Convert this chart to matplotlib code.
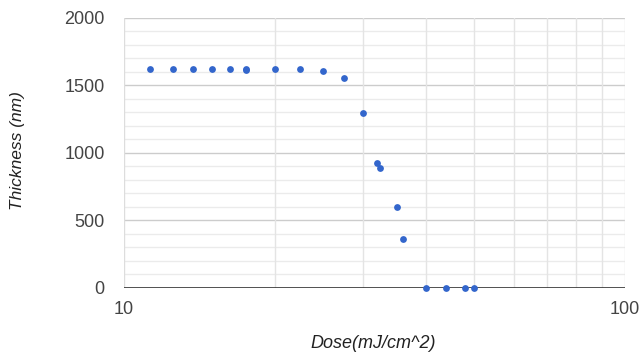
import numpy as np
import matplotlib
matplotlib.use("agg")
import matplotlib.pyplot as plt
from matplotlib.ticker import FixedLocator, NullFormatter

# dose (mJ/cm^2) vs. remaining resist thickness (nm)
dose = [11.25, 12.5, 13.75, 15, 16.25, 17.5, 17.5, 20, 22.5, 25, 27.5,
        30, 32, 32.5, 35, 36, 40, 44, 48, 50]
thickness = [1620, 1620, 1620, 1620, 1620, 1620, 1612, 1620, 1620, 1605, 1550,
             1295, 925, 885, 600, 365, 0, 0, 0, 0]

y_major = [0, 500, 1000, 1500, 2000]
x_ticks = [10, 100]
x_labels = ["10", "100"]

plt.rcParams["font.family"] = ["Liberation Sans", "DejaVu Sans"]

fig = plt.figure(figsize=(6.41, 3.54), dpi=100)
ax = fig.add_axes([124 / 641, 1 - 288 / 354, 501 / 641, 270.5 / 354])

ax.set_xscale("log")
ax.set_xlim(10, 100)
ax.set_ylim(0, 2000)

# grid lines
for v in range(100, 2000, 100):
    if v % 500:
        ax.axhline(v, color="#ebebeb", lw=1, zorder=0)
for v in y_major[1:]:
    ax.axhline(v, color="#cccccc", lw=1, zorder=0)
for v in range(20, 101, 10):
    ax.axvline(v, color="#e4e4e4", lw=1, zorder=0)
ax.axvline(10, color="#dddddd", lw=1, zorder=0)
ax.axhline(0, color="#333333", lw=1.2, zorder=1)

ax.scatter(dose, thickness, s=24, color="#3366cc", zorder=3, clip_on=False,
           linewidths=0)

for s in ax.spines.values():
    s.set_visible(False)

ax.yaxis.set_major_locator(FixedLocator(y_major))
ax.set_yticklabels([str(v) for v in y_major])
ax.xaxis.set_major_locator(FixedLocator(x_ticks))
ax.xaxis.set_minor_formatter(NullFormatter())
ax.set_xticklabels(x_labels)
ax.tick_params(which="both", length=0, labelsize=13, labelcolor="#444444")
ax.tick_params(axis="y", pad=14)
ax.tick_params(axis="x", pad=9)

fig.text(373.5 / 641, 1 - 344 / 354, "Dose(mJ/cm^2)", fontsize=13,
         style="italic", color="#222222", ha="center", va="center")
fig.text(18 / 641, 1 - 151 / 354, "Thickness (nm)", fontsize=12.5,
         style="italic", color="#222222", ha="center", va="center",
         rotation=90)

fig.savefig("out.png", dpi=100)
